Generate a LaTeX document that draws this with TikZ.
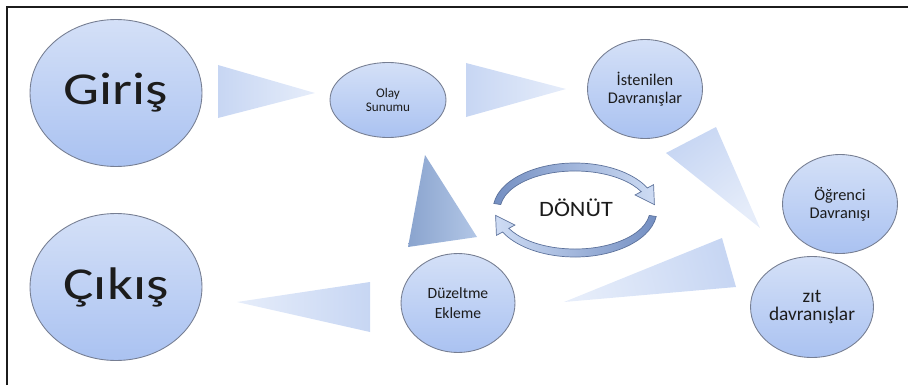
\documentclass[tikz,border=0pt]{standalone}
\usepackage{fontspec}
\setmainfont{Carlito}
\usetikzlibrary{shapes.geometric}
\definecolor{bubtop}{RGB}{212,224,247}
\definecolor{bubbot}{RGB}{170,194,241}
\definecolor{rim}{RGB}{118,126,146}
\definecolor{wedge}{RGB}{199,214,243}
\definecolor{wedgetip}{RGB}{230,237,250}
\definecolor{steel}{RGB}{138,164,206}
\definecolor{steellt}{RGB}{178,198,230}
\definecolor{loopdk}{RGB}{116,143,194}
\definecolor{looplt}{RGB}{206,220,244}
\definecolor{ink}{RGB}{28,28,28}

\begin{document}
\begin{tikzpicture}[x=.02cm,y=-.02cm,
  bub/.style={ellipse,draw=rim,line width=.5pt,top color=bubtop,bottom color=bubbot,inner sep=0pt,align=center,text=ink},
  big/.style={bub,minimum width=3.44cm,minimum height=2.94cm,font=\fontsize{26}{30}\selectfont},
  pointer/.style={top color=wedge,bottom color=wedgetip,shading angle=#1},
  ring/.style={draw=loopdk!80!black,line width=.4pt}]
  \useasboundingbox (0,0) rectangle (908,385);
  \draw[line width=1.4pt,ink] (7,385) -- (7,7) -- (908,7);

  \node[big] (gir) at (116,93) {\scalebox{1.25}[1]{Giriş}};
  \node[big] (cik) at (116,287) {\scalebox{1.25}[1]{Çıkış}};
  \node[bub,minimum width=2.32cm,minimum height=1.5cm,font=\fontsize{7.5}{8.2}\selectfont] (olay) at (388,100) {Olay\\Sunumu};
  \node[bub,minimum width=2.3cm,minimum height=1.98cm,font=\fontsize{9.3}{10.3}\selectfont] (ist) at (645,89) {İstenilen\\Davranışlar};
  \node[bub,minimum width=2.3cm,minimum height=1.98cm,font=\fontsize{9.3}{10.3}\selectfont] (ogr) at (840,204) {Öğrenci\\Davranışı};
  \node[bub,minimum width=2.46cm,minimum height=2.02cm,font=\fontsize{11}{10.5}\selectfont] (zit) at (812,307) {zıt\\davranışlar};
  \node[bub,minimum width=2.28cm,minimum height=1.98cm,font=\fontsize{8.9}{11.3}\selectfont] (duz) at (458,303) {Düzeltme\\Ekleme};
  \node[text=ink,font=\fontsize{12.5}{14}\selectfont] (don) at (576,208) {\scalebox{1.1}[1]{DÖNÜT}};

  \shade[pointer=90] (218,65) -- (315,93) -- (218,118) -- cycle;
  \shade[pointer=90] (466,63) -- (566,89) -- (466,117) -- cycle;
  \shade[pointer=38] (666,153) -- (716,127) -- (760,228) -- cycle;
  \shade[pointer=284] (722,238) -- (736,287) -- (564,302) -- cycle;
  \shade[pointer=270] (370,282) -- (370,332) -- (237,302) -- cycle;
  \shade[left color=steel,right color=steellt] (425,155) -- (477,237) -- (408,247) -- cycle;

  \begin{scope}[shift={(575,210)},yscale=-1]
    \foreach \r/\ca/\cb in {0/loopdk/looplt,180/looplt/loopdk}
      \shade[ring,left color=\ca,right color=\cb,rotate=\r] (172:82 and 47) arc[start angle=172,end angle=28,x radius=82,y radius=47]
        -- (28:89 and 54) -- (7:80 and 44) -- (28:68 and 32) -- (28:75 and 39)
        arc[start angle=28,end angle=172,x radius=75,y radius=39] -- cycle;
  \end{scope}
\end{tikzpicture}
\end{document}
